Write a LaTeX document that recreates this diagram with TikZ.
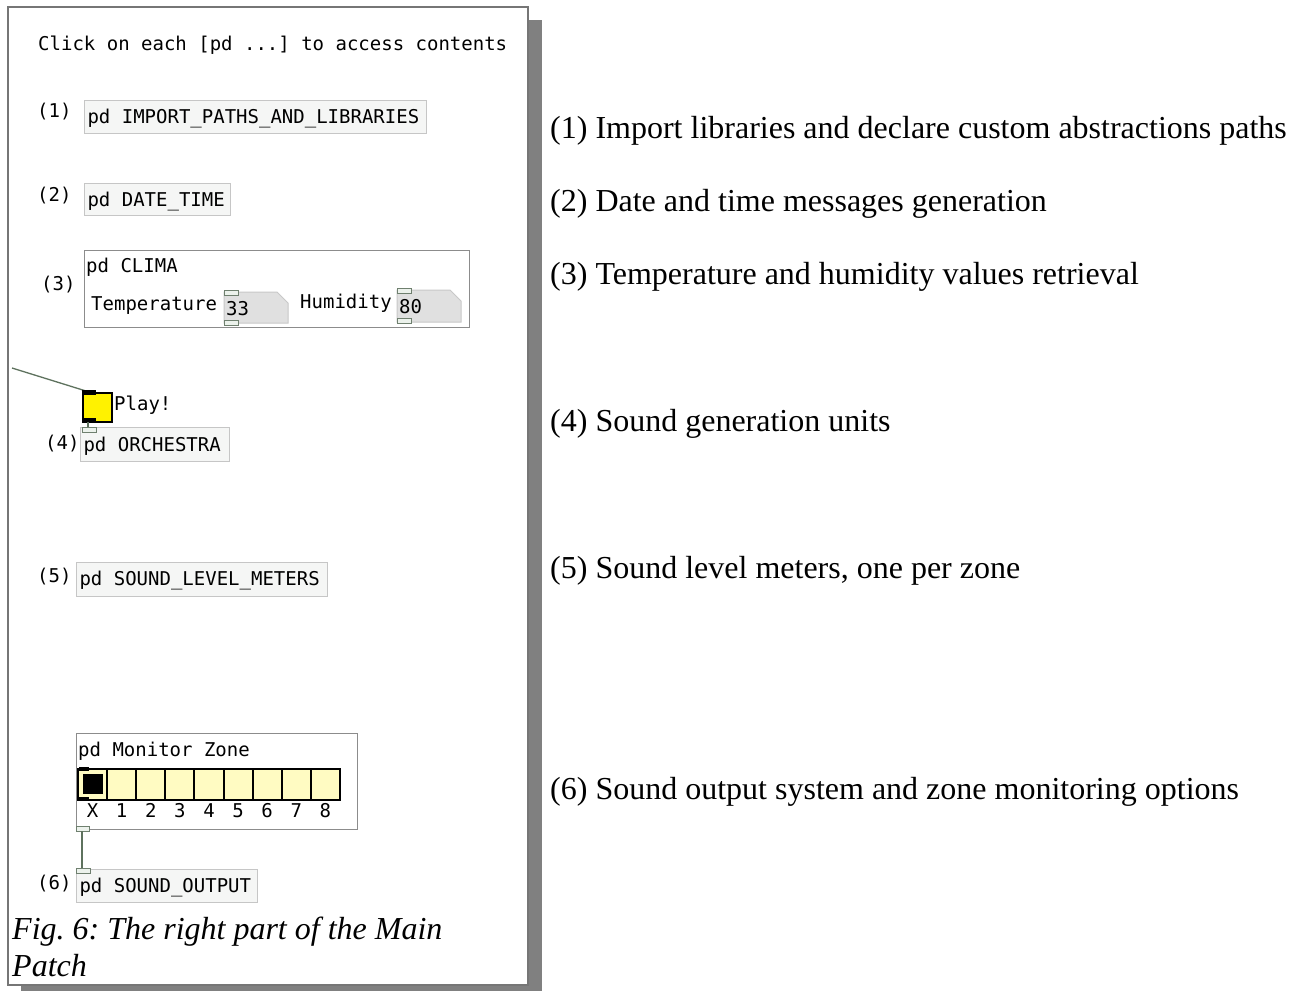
\documentclass[tikz,border=0pt]{standalone}
\usepackage{fontspec}
\setmainfont{Liberation Serif}
\newfontfamily\pdmono{DejaVu Sans Mono}
\newcommand\pdus{\char95\relax}
\newcommand\pdline[2]{\makebox[#1pt][l]{#2}}
\frenchspacing
\definecolor{boxfill}{RGB}{245,246,245}
\definecolor{boxline}{RGB}{198,198,198}
\definecolor{grpline}{RGB}{140,140,140}
\definecolor{nbfill}{RGB}{224,224,224}
\definecolor{nbline}{RGB}{200,200,200}
\definecolor{ioline}{RGB}{111,128,111}
\definecolor{iofill}{RGB}{236,242,236}
\definecolor{wirecol}{RGB}{94,114,94}
\definecolor{radiofill}{RGB}{255,251,194}
\definecolor{shadowcol}{RGB}{128,128,128}
\definecolor{framecol}{RGB}{118,118,118}
\begin{document}
\begin{tikzpicture}[x=1pt,y=-1pt,
  pd/.style={font=\pdmono\fontsize{19}{22}\selectfont, inner sep=0pt},
  pdbox/.style={pd, draw=boxline, fill=boxfill, line width=1pt, anchor=north west,
    inner xsep=3pt, inner ysep=0pt},
  grp/.style={draw=grpline, fill=white, line width=1.2pt, anchor=north west, inner sep=0pt},
  numbox/.style={draw=nbline, fill=nbfill, line width=1pt},
  iolet/.style={draw=ioline, fill=iofill, line width=1pt},
  wire/.style={draw=wirecol, line width=1.3pt},
  cell/.style={draw=black, fill=radiofill, line width=2pt, minimum width=29.1, minimum height=31, inner sep=0pt},
  desc/.style={font=\fontsize{32}{38}\selectfont, inner sep=0pt, anchor=base west},
  caption/.style={font=\itshape\fontsize{32}{38}\selectfont, inner sep=0pt, anchor=base west}]
\useasboundingbox (0,0) rectangle (1300,991);

% page frame with drop shadow
\fill[shadowcol] (21,20) rectangle (542,991);
\draw[framecol, fill=white, line width=1.3pt] (8,7) rectangle (528,985);

% heading comment
\node[pd, anchor=base west] (hint) at (38,50) {Click on each [pd ...] to access contents};

% (1) and (2)
\node[pd, anchor=west] (n1) at (37,112) {(1)};
\node[pdbox, text height=23, text depth=10] (imp) at (84,100) {\pdline{336}{pd IMPORT\pdus PATHS\pdus AND\pdus LIBRARIES}};
\node[pd, anchor=west] (n2) at (37,196) {(2)};
\node[pdbox, text height=23, text depth=9] (dt) at (84,183) {\pdline{140}{pd DATE\pdus TIME}};

% (3) climate subpatch on parent
\node[pd, anchor=west] (n3) at (41,285) {(3)};
\node[grp, minimum width=385, minimum height=77] (clima) at (84,250) {};
\node[pd, anchor=base west] (climat) at (86,272) {pd CLIMA};
\node[pd, anchor=base west] (templ) at (91,310) {Temperature};
\draw[numbox] (224,292) -- (277,292) -- (288,303) -- (288,323) -- (224,323) -- cycle;
\node[pd, anchor=base west] (temp) at (226,315) {33};
\draw[iolet] (224,290) rectangle (238,295);
\draw[iolet] (224,320) rectangle (238,325);
\node[pd, anchor=base west] (huml) at (300,308) {Humidity};
\draw[numbox] (397,290) -- (450,290) -- (461,301) -- (461,322) -- (397,322) -- cycle;
\node[pd, anchor=base west] (hum) at (399,313) {80};
\draw[iolet] (397,288) rectangle (411,293);
\draw[iolet] (397,318) rectangle (411,323);

% (4) play toggle and orchestra
\coordinate (src) at (12,368);
\coordinate (togin) at (86,391);
\draw[wire] (src) -- (togin);
\node[draw=black, fill=yellow, line width=2pt, minimum size=29, inner sep=0pt, anchor=north west] (tog) at (82,392) {};
\fill[black] (82,390) rectangle (96,395);
\fill[black] (82,418) rectangle (96,422);
\node[pd, anchor=base west] (play) at (114,410) {Play!};
\node[pd, anchor=west] (n4) at (45,444) {(4)};
\node[pdbox, text height=24, text depth=10] (orch) at (80,427) {\pdline{143}{pd ORCHESTRA}};
\coordinate (togout) at (88,422);
\coordinate (orchin) at (88,428);
\draw[wire] (togout) -- (orchin);
\draw[iolet] (82,427) rectangle (96,432);

% (5)
\node[pd, anchor=west] (n5) at (37,577) {(5)};
\node[pdbox, text height=23, text depth=11] (slm) at (76,562) {\pdline{245}{pd SOUND\pdus LEVEL\pdus METERS}};

% (6) monitor zone subpatch and output
\node[grp, minimum width=281, minimum height=96] (mon) at (76,733) {};
\node[pd, anchor=base west] (mont) at (78,756) {pd Monitor Zone};
\foreach \i in {0,...,8} {
  \node[cell] (r\i) at ({92.6+29.1*\i},784) {};
}
\node[fill=black, draw=radiofill, line width=0.8pt, minimum size=21, inner sep=0pt] (sel) at (r0) {};
\fill[black] (79,767) rectangle (89,771);
\fill[black] (79,797) rectangle (89,801);
\foreach \t [count=\i from 0] in {X,1,2,3,4,5,6,7,8} {
  \node[pd, anchor=base] (lab\i) at ({92.6+29.1*\i},817) {\t};
}
\draw[iolet] (76,826) rectangle (89,831);
\coordinate (monout) at (82,831);
\coordinate (outin) at (82,869);
\draw[wire] (monout) -- (outin);
\node[pd, anchor=west] (n6) at (37,884) {(6)};
\node[pdbox, text height=23, text depth=10] (sout) at (76,869) {\pdline{175}{pd SOUND\pdus OUTPUT}};
\draw[iolet] (76,868) rectangle (90,873);

% caption
\node[caption] (cap1) at (12,939) {Fig. 6: The right part of the Main};
\node[caption] (cap2) at (12,976) {Patch};

% descriptions
\node[desc] (d1) at (550,138) {(1) Import libraries and declare custom abstractions paths};
\node[desc] (d2) at (550,211) {(2) Date and time messages generation};
\node[desc] (d3) at (550,284) {(3) Temperature and humidity values retrieval};
\node[desc] (d4) at (550,431) {(4) Sound generation units};
\node[desc] (d5) at (550,578) {(5) Sound level meters, one per zone};
\node[desc] (d6) at (550,799) {(6) Sound output system and zone monitoring options};
\end{tikzpicture}
\end{document}
